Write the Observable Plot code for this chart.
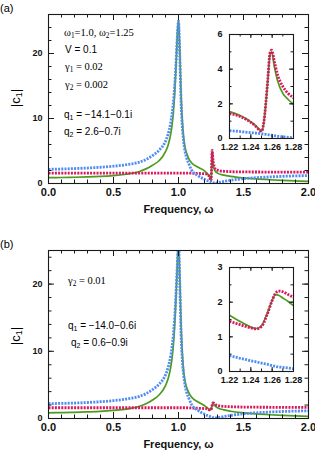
<!DOCTYPE html>
<html><head><meta charset="utf-8">
<script src="https://cdn.jsdelivr.net/npm/d3@7"></script>
<script src="https://cdn.jsdelivr.net/npm/@observablehq/plot@0.6"></script>
<style>
body{margin:0;background:#fff;}
#root{position:relative;width:315px;height:455px;overflow:hidden;background:#fff;font-family:"Liberation Sans",Arial,sans-serif;color:#000;}
.abs{position:absolute;white-space:nowrap;line-height:1;}
.serif{font-family:"Liberation Serif","Times New Roman",serif;}
sub{font-size:70%;vertical-align:-0.3em;line-height:0;}
svg{position:absolute;}
</style></head><body><div id="root"></div>
<script>
// ---------- data ----------
// main-plot frequencies below and above the ω2 feature
const freqLo = [0, 0.1, 0.2, 0.3, 0.4, 0.5, 0.6, 0.7, 0.75, 0.8, 0.85, 0.9, 0.92, 0.94, 0.95, 0.96, 0.97, 0.98, 0.99, 1.0, 1.01, 1.02, 1.03, 1.04, 1.05, 1.06, 1.08, 1.1, 1.15, 1.2];
const freqHi = [1.3, 1.35, 1.4, 1.5, 1.6, 1.7, 1.8, 1.9, 2.0];

// panel (a)
const greenLoA = [0.9, 0.92, 0.96, 1.01, 1.09, 1.22, 1.42, 1.85, 2.25, 2.8, 3.5, 4.9, 5.9, 7.6, 8.9, 10.8, 13.6, 17.5, 22.5, 25.2, 20.5, 13.5, 9.4, 7.0, 5.6, 4.8, 3.8, 3.2, 2.5, 1.95];
const blueLoA  = [2.18, 2.23, 2.3, 2.38, 2.5, 2.66, 2.9, 3.3, 3.7, 4.3, 5.1, 6.5, 7.6, 9.3, 10.6, 12.4, 14.9, 18.3, 22.3, 25.0, 19.5, 12.5, 8.5, 6.4, 5.0, 4.1, 3.0, 2.1, 1.2, 0.65];
const redLoA   = [1.6, 1.6, 1.6, 1.6, 1.6, 1.6, 1.6, 1.6, 1.6, 1.6, 1.6, 1.6, 1.6, 1.6, 1.6, 1.6, 1.6, 1.6, 1.6, 1.6, 1.6, 1.6, 1.6, 1.6, 1.6, 1.6, 1.59, 1.58, 1.55, 1.5];
const freqInA  = [1.22, 1.225, 1.23, 1.235, 1.24, 1.245, 1.248, 1.25, 1.252, 1.254, 1.256, 1.258, 1.2595, 1.262, 1.265, 1.27, 1.275, 1.28];
const greenInA = [1.55, 1.45, 1.33, 1.17, 0.96, 0.72, 0.52, 0.43, 0.85, 1.95, 3.4, 4.85, 5.0, 4.15, 3.35, 2.6, 2.25, 1.98];
const redInA   = [1.44, 1.37, 1.27, 1.12, 0.93, 0.68, 0.48, 0.42, 0.85, 2.0, 3.5, 4.95, 5.1, 4.45, 3.7, 3.0, 2.6, 2.35];
const blueInA  = [0.45, 0.43, 0.4, 0.37, 0.34, 0.31, 0.29, 0.27, 0.25, 0.24, 0.22, 0.2, 0.19, 0.16, 0.13, 0.1, 0.07, 0.05];
const greenHiA = [1.6, 1.28, 1.1, 0.86, 0.7, 0.58, 0.48, 0.4, 0.33];
const blueHiA  = [0.12, 0.33, 0.5, 0.74, 0.9, 1.01, 1.1, 1.17, 1.22];
const redHiA   = [2.05, 1.88, 1.82, 1.78, 1.77, 1.76, 1.76, 1.75, 1.75];

// panel (b)
const greenLoB = [0.85, 0.88, 0.92, 0.98, 1.06, 1.2, 1.4, 1.82, 2.2, 2.75, 3.5, 4.9, 5.9, 7.6, 8.9, 10.8, 13.6, 17.5, 22.5, 26.5, 21.0, 13.8, 9.5, 7.0, 5.6, 4.8, 3.8, 3.2, 2.45, 1.9];
const blueLoB  = [2.2, 2.25, 2.3, 2.38, 2.5, 2.66, 2.9, 3.3, 3.7, 4.3, 5.1, 6.5, 7.6, 9.3, 10.6, 12.4, 14.9, 18.3, 22.5, 26.0, 20.0, 12.5, 8.5, 6.4, 5.0, 4.1, 3.0, 2.1, 1.2, 0.65];
const redLoB   = [1.6, 1.6, 1.6, 1.6, 1.6, 1.6, 1.6, 1.6, 1.6, 1.6, 1.6, 1.6, 1.6, 1.6, 1.6, 1.6, 1.6, 1.6, 1.6, 1.6, 1.6, 1.6, 1.6, 1.6, 1.6, 1.6, 1.58, 1.56, 1.52, 1.48];
const freqInB  = [1.22, 1.225, 1.23, 1.235, 1.24, 1.245, 1.25, 1.255, 1.26, 1.263, 1.266, 1.27, 1.275, 1.28];
const greenInB = [1.62, 1.53, 1.44, 1.36, 1.28, 1.24, 1.32, 1.65, 2.05, 2.22, 2.2, 2.12, 2.02, 1.9];
const redInB   = [1.45, 1.4, 1.35, 1.3, 1.26, 1.23, 1.3, 1.62, 2.05, 2.25, 2.32, 2.3, 2.22, 2.14];
const blueInB  = [0.46, 0.42, 0.38, 0.35, 0.31, 0.28, 0.24, 0.21, 0.17, 0.15, 0.13, 0.12, 0.1, 0.08];
const greenHiB = [1.6, 1.28, 1.08, 0.84, 0.68, 0.56, 0.46, 0.38, 0.3];
const blueHiB  = [0.12, 0.3, 0.46, 0.7, 0.85, 0.96, 1.04, 1.1, 1.15];
const redHiB   = [1.95, 1.8, 1.75, 1.7, 1.68, 1.67, 1.66, 1.66, 1.65];

// tick values / labels
const xTicksMain = [0, 0.5, 1.0, 1.5, 2.0];
const yTicksMain = [0, 10, 20];
const xTicksInset = [1.22, 1.24, 1.26, 1.28];
const yTicksInsetA = [0, 2, 4, 6];
const yTicksInsetB = [0, 1, 2, 3];
const xLabel = "Frequency, ω";

// ---------- styling ----------
const GREEN = "#4c9a1e", BLUE = "#4e8cf4", RED = "#d9175e", INK = "#1a1a1a";
const FONT = "Liberation Sans, Arial, sans-serif";
const DOTS = "2,1.2";
const root = document.getElementById("root");

const rows = (f, v) => f.map((w, i) => ({w, v: v[i]}));
function curveMarks(g, r, b) {
  return [
    Plot.line(g, {x: "w", y: "v", stroke: GREEN, strokeWidth: 1.7, curve: "monotone-x", clip: true}),
    Plot.line(r, {x: "w", y: "v", stroke: RED, strokeWidth: 2.8, strokeDasharray: DOTS, strokeLinecap: "butt", curve: "monotone-x", clip: true}),
    Plot.line(b, {x: "w", y: "v", stroke: BLUE, strokeWidth: 2.8, strokeDasharray: DOTS, strokeLinecap: "butt", curve: "monotone-x", clip: true})
  ];
}
function tickMarks(xs, ys, fw, fh, len) {
  return [
    Plot.ruleX(xs, {x: d => d, insetTop: fh - len, stroke: INK}),
    Plot.ruleX(xs, {x: d => d, insetBottom: fh - len, stroke: INK}),
    Plot.ruleY(ys, {y: d => d, insetRight: fw - len, stroke: INK}),
    Plot.ruleY(ys, {y: d => d, insetLeft: fw - len, stroke: INK})
  ];
}
function place(svg, left, top) {
  svg.style.left = left + "px"; svg.style.top = top + "px";
  root.appendChild(svg);
}

function mainPanel({top, height, mt, mb, yMax, g, r, b}) {
  const ml = 48, mr = 7, fw = 315 - ml - mr, fh = height - mt - mb;
  const svg = Plot.plot({
    width: 315, height, marginLeft: ml, marginRight: mr, marginTop: mt, marginBottom: mb,
    x: {domain: [0, 2], axis: null}, y: {domain: [0, yMax], axis: null},
    style: {background: "transparent", fontFamily: FONT, color: "#000", overflow: "visible"},
    marks: [
      ...curveMarks(g, r, b),
      Plot.frame({stroke: INK, strokeWidth: 1.1}),
      ...tickMarks(d3.range(0.1, 2, 0.1), d3.range(2, yMax, 2), fw, fh, 3.5),
      ...tickMarks(xTicksMain, yTicksMain, fw, fh, 6),
      Plot.text(xTicksMain, {x: d => d, frameAnchor: "bottom", dy: 12.5, text: d => d.toFixed(1), fontSize: 11, fontWeight: "bold", fill: "#111"}),
      Plot.text(yTicksMain, {y: d => d, frameAnchor: "left", dx: -6, textAnchor: "end", text: d => String(d), fontSize: 9, fontWeight: "bold", fill: "#111"}),
      Plot.text([xLabel], {frameAnchor: "bottom", dy: 29, text: d => d, fontSize: 11, fontWeight: "bold", fill: "#111"})
    ]
  });
  place(svg, 0, top);
}

function insetPanel({top, yMax, yTicks, yMinorStep, g, r, b}) {
  const width = 105, height = 134, ml = 30, mr = 11, mt = 10, mb = 20;
  const fw = width - ml - mr, fh = height - mt - mb;
  const svg = Plot.plot({
    width, height, marginLeft: ml, marginRight: mr, marginTop: mt, marginBottom: mb,
    x: {domain: [1.22, 1.28], axis: null}, y: {domain: [0, yMax], axis: null},
    style: {background: "transparent", fontFamily: FONT, color: "#000", overflow: "visible"},
    marks: [
      Plot.frame({fill: "white"}),
      ...curveMarks(g, r, b),
      Plot.frame({stroke: INK, strokeWidth: 1.1}),
      ...tickMarks(d3.range(1.23, 1.28, 0.01), d3.range(yMinorStep, yMax, yMinorStep), fw, fh, 2.5),
      ...tickMarks(xTicksInset, yTicks, fw, fh, 4),
      Plot.text(xTicksInset, {x: d => d, frameAnchor: "bottom", dy: 11, text: d => d.toFixed(2), fontSize: 9, fontWeight: "bold", fill: "#111"}),
      Plot.text(yTicks, {y: d => d, frameAnchor: "left", dx: -7, textAnchor: "end", text: d => String(d), fontSize: 9, fontWeight: "bold", fill: "#111"})
    ]
  });
  place(svg, 199, top);
}

mainPanel({top: 0, height: 225, mt: 14, mb: 42, yMax: 26,
  g: [...rows(freqLo, greenLoA), ...rows(freqInA, greenInA), ...rows(freqHi, greenHiA)],
  r: [...rows(freqLo, redLoA), ...rows(freqInA, redInA), ...rows(freqHi, redHiA)],
  b: [...rows(freqLo, blueLoA), ...rows(freqInA, blueInA), ...rows(freqHi, blueHiA)]});
insetPanel({top: 24, yMax: 6, yTicks: yTicksInsetA, yMinorStep: 1,
  g: rows(freqInA, greenInA), r: rows(freqInA, redInA), b: rows(freqInA, blueInA)});

mainPanel({top: 236, height: 219, mt: 14, mb: 37, yMax: 25,
  g: [...rows(freqLo, greenLoB), ...rows(freqInB, greenInB), ...rows(freqHi, greenHiB)],
  r: [...rows(freqLo, redLoB), ...rows(freqInB, redInB), ...rows(freqHi, redHiB)],
  b: [...rows(freqLo, blueLoB), ...rows(freqInB, blueInB), ...rows(freqHi, blueHiB)]});
insetPanel({top: 257, yMax: 3, yTicks: yTicksInsetB, yMinorStep: 0.5,
  g: rows(freqInB, greenInB), r: rows(freqInB, redInB), b: rows(freqInB, blueInB)});

// ---------- text annotations ----------
const notes = [
  {x: 0, y: 3, html: "(a)", cls: "", size: 11},
  {x: 0, y: 239, html: "(b)", cls: "", size: 11},
  {x: 64, y: 28, html: "ω<sub>1</sub>=1.0, ω<sub>2</sub>=1.25", cls: "serif", size: 10.5},
  {x: 65, y: 45, html: "V = 0.1", cls: "", size: 10},
  {x: 65, y: 62, html: "γ<sub>1</sub> = 0.02", cls: "serif", size: 10.5},
  {x: 65, y: 80, html: "γ<sub>2</sub> = 0.002", cls: "serif", size: 10.5},
  {x: 64, y: 110, html: "q<sub>1</sub> = −14.1−0.1i", cls: "", size: 10},
  {x: 64, y: 127, html: "q<sub>2</sub> = 2.6−0.7i", cls: "", size: 10},
  {x: 68, y: 276, html: "γ<sub>2</sub> = 0.01", cls: "serif", size: 10.5},
  {x: 68, y: 321, html: "q<sub>1</sub> = −14.0−0.6i", cls: "", size: 10},
  {x: 71, y: 338, html: "q<sub>2</sub> = 0.6−0.9i", cls: "", size: 10}
];
for (const n of notes) {
  const d = document.createElement("div");
  d.className = "abs " + n.cls;
  d.style.left = n.x + "px"; d.style.top = n.y + "px"; d.style.fontSize = n.size + "px";
  d.innerHTML = n.html;
  root.appendChild(d);
}
for (const cy of [98, 336]) {
  const d = document.createElement("div");
  d.className = "abs";
  d.style.fontSize = "13px";
  d.style.left = "15px"; d.style.top = cy + "px";
  d.style.transform = "translate(-50%,-50%) rotate(-90deg)";
  d.innerHTML = "|c<sub>1</sub>|";
  root.appendChild(d);
}
</script></body></html>
